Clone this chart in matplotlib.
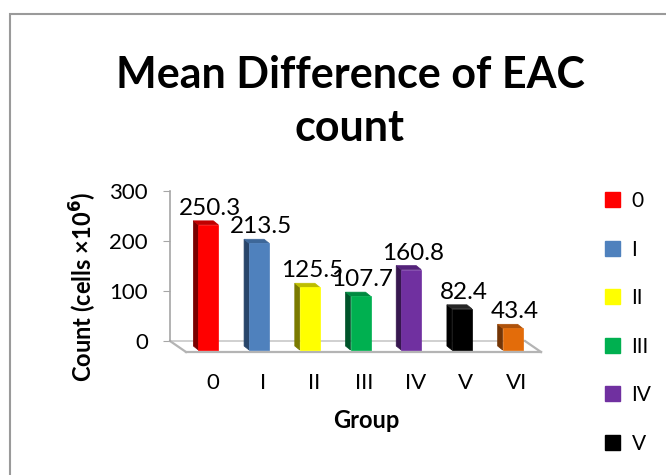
import matplotlib
matplotlib.use("Agg")
import matplotlib.pyplot as plt
import matplotlib.transforms as mtransforms
from matplotlib.patches import Rectangle, Polygon

categories = ["0", "I", "II", "III", "IV", "V", "VI"]
values = [250.3, 213.5, 125.5, 107.7, 160.8, 82.4, 43.4]
colors = ["#FF0000", "#4F81BD", "#FFFF00", "#00B050", "#7030A0", "#000000", "#E36C0A"]
side_colors = ["#7A0000", "#28456A", "#7A7A00", "#00542A", "#37174F", "#000000", "#743505"]
top_colors = ["#C00000", "#3D6799", "#BDBD00", "#008A40", "#54237A", "#262626", "#AE520A"]
yticks = [0, 100, 200, 300]

plt.rcParams["font.family"] = ["Lato", "DejaVu Sans"]

W, H = 666, 475
fig = plt.figure(figsize=(W / 100, H / 100), dpi=100)

def px(x, y):
    return mtransforms.ScaledTranslation(x / 100, y / 100, fig.dpi_scale_trans)

# chart border
fig.patches.append(Rectangle((10 / W, -0.1), 1.2, 1 - 14 / H + 0.1, transform=fig.transFigure,
                             fill=False, edgecolor="#9a9a9a", linewidth=1.5))

fig.text(350 / W, 1 - 75 / H, "Mean Difference of EAC", ha="center", va="center",
         fontsize=31, fontweight="bold")
fig.text(350 / W, 1 - 128 / H, "count", ha="center", va="center",
         fontsize=31, fontweight="bold")

ax_left, ax_right = 170, 525
ax_bot, ax_top = 341, 191
ax = fig.add_axes([ax_left / W, 1 - ax_bot / H, (ax_right - ax_left) / W, (ax_bot - ax_top) / H])
ax.set_xlim(-0.5, len(categories) - 0.5)
ax.set_ylim(0, 300)
ax.patch.set_visible(False)
for s in ["top", "right", "bottom"]:
    ax.spines[s].set_visible(False)
ax.spines["left"].set_color("#a6a6a6")
ax.spines["left"].set_linewidth(1.2)
ax.set_yticks(yticks)
ax.set_yticklabels([str(t) for t in yticks], fontsize=16)
ax.tick_params(axis="y", length=5, color="#a6a6a6", pad=11)
ax.set_xticks([])

# pixel size of one data unit
o = ax.transData.transform((0, 0))
ux = ax.transData.transform((1, 0))[0] - o[0]
uy = ax.transData.transform((0, 1))[1] - o[1]

x0, x1 = -0.5, len(categories) - 0.5
front = ax.transData + px(16, -11)
edge = dict(color="#b4b4b4", lw=1.6, clip_on=False)
ax.plot([x0, x1], [0, 0], color="#c8c8c8", lw=1.2, clip_on=False)  # back edge
ax.plot([x0, x1], [0, 0], transform=front, **edge)                  # front edge
dxu, dyu = 16 / ux, 11 / uy
for xx in (x0, x1):
    ax.plot([xx, xx + dxu], [0, -dyu], **edge)

# 3D-like bars
fx, fy = 13, -9       # front-face pixel offset
sx, sy = 5, 4         # depth (pixels) to the back-left
fw = 20 / ux          # front face width in data units
ftr = ax.transData + px(fx, fy)
dx, dy = sx / ux, sy / uy
for i, (v, c, sc, tc) in enumerate(zip(values, colors, side_colors, top_colors)):
    xl, xr = i - fw / 2, i + fw / 2
    side = Polygon([(xl, 0), (xl, v), (xl - dx, v + dy), (xl - dx, dy)], closed=True,
                   facecolor=sc, edgecolor=sc, lw=0.5, transform=ftr, clip_on=False, zorder=2)
    top = Polygon([(xl, v), (xr, v), (xr - dx, v + dy), (xl - dx, v + dy)], closed=True,
                  facecolor=tc, edgecolor=tc, lw=0.5, transform=ftr, clip_on=False, zorder=2)
    ax.add_patch(side)
    ax.add_patch(top)
    ax.bar(i, v, width=fw, color=c, transform=ftr, clip_on=False, zorder=3,
           edgecolor=c, linewidth=0.5)
    ax.text(i, v, f"{v}", ha="center", va="baseline", fontsize=17.5,
            transform=ax.transData + px(fx + 2, fy + 10), zorder=5, clip_on=False)
    ax.text(i, 0, categories[i], ha="center", va="center", fontsize=16,
            transform=ax.transData + px(17, -42), clip_on=False)

fig.text(366 / W, 1 - 420 / H, "Group", ha="center", va="center", fontsize=17, fontweight="bold")
fig.text(83 / W, 1 - 287 / H, r"Count (cells ×10$^{\mathbf{6}}$)", ha="center", va="center",
         rotation=90, fontsize=17, fontweight="bold")

handles = [Rectangle((0, 0), 1, 1, color=c) for c in colors]
leg = fig.legend(handles, categories, loc="upper left", bbox_to_anchor=(605 / W, 1 - 191 / H),
                 frameon=False, fontsize=15, handlelength=0.72, handleheight=0.72,
                 handletextpad=0.55, labelspacing=1.37, borderaxespad=0, borderpad=0)

fig.savefig("out.png", dpi=100)
